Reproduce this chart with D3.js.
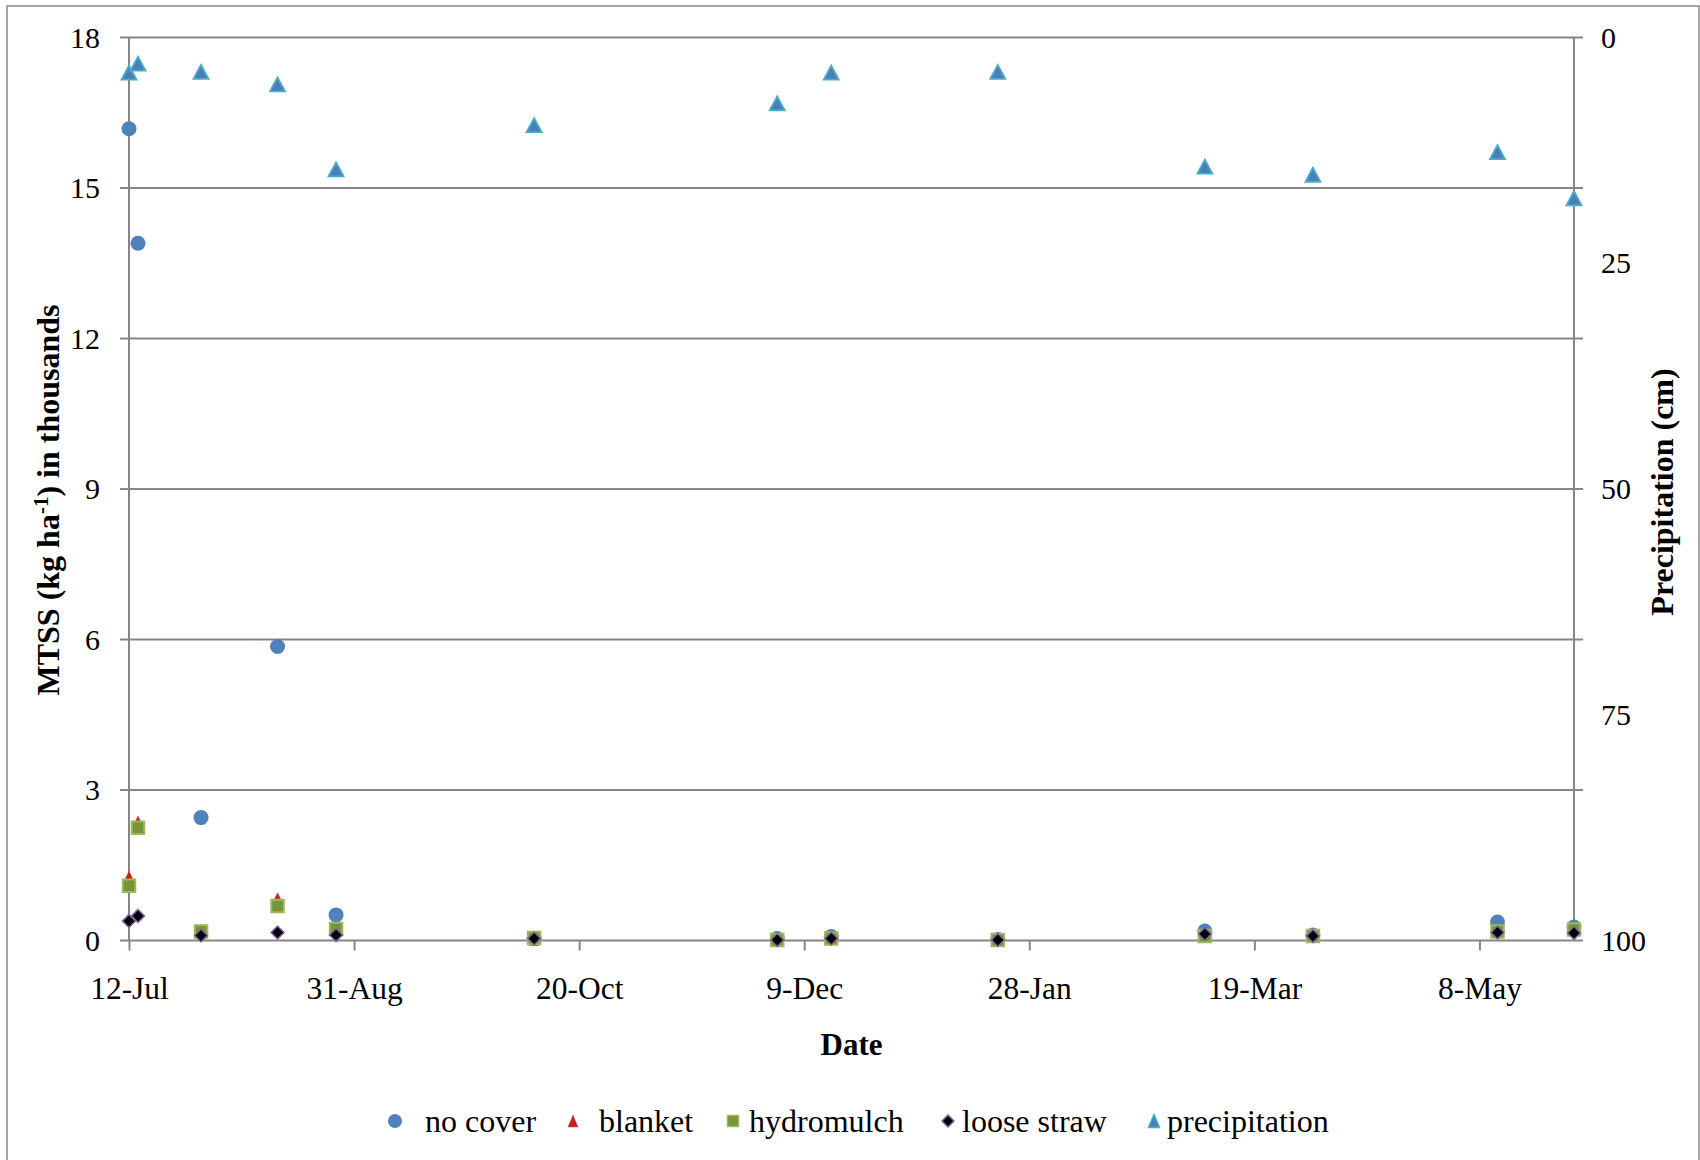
<!DOCTYPE html>
<html>
<head>
<meta charset="utf-8">
<script src="https://cdn.jsdelivr.net/npm/d3@7"></script>
<style>
  body { margin: 0; background: #fff; }
  svg text { font-family: "Liberation Serif", "Times New Roman", serif; fill: #000; }
</style>
</head>
<body>
<div id="chart"></div>
<script>
// sampling dates and values (MTSS in thousands of kg/ha, precipitation in cm)
var dates = ["2010-07-12","2010-07-14","2010-07-28","2010-08-14","2010-08-27","2010-10-10",
             "2010-12-03","2010-12-15","2011-01-21","2011-03-08","2011-04-01","2011-05-12","2011-05-29"];
var noCover      = [16.18, 13.90, 2.45, 5.86, 0.51, 0.04, 0.04, 0.08, 0.02, 0.19, 0.11, 0.37, 0.27];
var blanket      = [1.28, 2.38, 0.23, 0.85, 0.20, 0.00, 0.01, 0.03, 0.01, 0.08, 0.08, 0.17, 0.20];
var hydromulch   = [1.09, 2.25, 0.18, 0.69, 0.23, 0.05, 0.01, 0.04, 0.01, 0.09, 0.09, 0.18, 0.22];
var looseStraw   = [0.39, 0.49, 0.10, 0.16, 0.11, 0.04, 0.01, 0.04, 0.01, 0.13, 0.09, 0.16, 0.15];
var precipitation= [3.9, 2.9, 3.8, 5.2, 14.6, 9.7, 7.3, 3.9, 3.8, 14.3, 15.2, 12.7, 17.8];

var xTicks = ["2010-07-12","2010-08-31","2010-10-20","2010-12-09","2011-01-28","2011-03-19","2011-05-08"];
var xDomain = ["2010-07-12","2011-05-29"];
var yTicks = [0,3,6,9,12,15,18];
var y2Ticks = [0,25,50,75,100];

var W = 1700, H = 1160;
var m = {l:129, r:1574, t:37.5, b:940.5};
var axisColor = "#868686";
var parse = d3.timeParse("%Y-%m-%d");
var fmt = d3.timeFormat("%-d-%b");

var svg = d3.select("#chart").append("svg")
	.attr("width", W).attr("height", H);

// outer chart border
svg.append("rect").attr("x",7).attr("y",6).attr("width",1692).attr("height",1200)
	.style("fill","none").style("stroke",axisColor).style("stroke-width",1.5);

var X = d3.scaleTime().domain(xDomain.map(parse)).range([m.l, m.r]),
	Y = d3.scaleLinear().domain([0,18]).range([m.b, m.t]),
	Y2 = d3.scaleLinear().domain([0,100]).range([m.t, m.b]);

// gridlines (extend past both axes as tick marks)
svg.selectAll(".grid").data(yTicks).enter().append("line")
	.attr("class","grid")
	.attr("x1", m.l-9).attr("x2", m.r+9)
	.attr("y1", function(d){return Y(d)}).attr("y2", function(d){return Y(d)})
	.style("stroke",axisColor).style("stroke-width",2);

// left + right axes
[m.l, m.r].forEach(function(x){
	svg.append("line").attr("x1",x).attr("x2",x).attr("y1",m.t).attr("y2",m.b)
		.style("stroke",axisColor).style("stroke-width",2);
});

// tick labels
var yAx = d3.axisLeft(Y).tickValues(yTicks).tickSize(0).tickPadding(29);
var gy = svg.append("g").attr("transform","translate("+m.l+",0)").call(yAx);
gy.select(".domain").remove();
gy.selectAll("text").style("font-size","30px").style("font-family","Liberation Serif");

var y2Ax = d3.axisRight(Y2).tickValues(y2Ticks).tickSize(0).tickPadding(27);
var gy2 = svg.append("g").attr("transform","translate("+m.r+",0)").call(y2Ax);
gy2.select(".domain").remove();
gy2.selectAll("text").style("font-size","30px").style("font-family","Liberation Serif");

var xAx = d3.axisBottom(X).tickValues(xTicks.map(parse)).tickFormat(fmt).tickSize(10).tickPadding(26);
var gx = svg.append("g").attr("transform","translate(0,"+m.b+")").call(xAx);
gx.select(".domain").remove();
gx.selectAll("line").style("stroke",axisColor).style("stroke-width",2);
gx.selectAll("text").style("font-size","31.5px").style("font-family","Liberation Serif");

// axis titles
svg.append("text").attr("x",(m.l+m.r)/2).attr("y",1055).attr("text-anchor","middle")
	.style("font-size","31px").style("font-weight","bold").text("Date");

var yt = svg.append("text").attr("transform","translate(59,500) rotate(-90)")
	.attr("text-anchor","middle").style("font-size","32px").style("font-weight","bold");
yt.append("tspan").text("MTSS (kg ha");
yt.append("tspan").attr("dy",-11).style("font-size","21px").text("-1");
yt.append("tspan").attr("dy",11).text(") in thousands");

svg.append("text").attr("transform","translate(1673,492) rotate(-90)")
	.attr("text-anchor","middle").style("font-size","32px").style("font-weight","bold")
	.text("Precipitation (cm)");

// marker shapes
function circle(r){ return "M"+(-r)+",0A"+r+","+r+" 0 1,0 "+r+",0A"+r+","+r+" 0 1,0 "+(-r)+",0Z"; }
function tri(w,h){ return "M0,"+(-h/2)+"L"+(w/2)+","+(h/2)+"L"+(-w/2)+","+(h/2)+"Z"; }
function square(s){ return "M"+(-s/2)+","+(-s/2)+"h"+s+"v"+s+"h"+(-s)+"Z"; }
function diamond(s){ return "M0,"+(-s)+"L"+s+",0L0,"+s+"L"+(-s)+",0Z"; }

var series = [
	{name:"no cover", values:noCover, axis:Y, path:circle(7.5), lpath:circle(7), fill:"#4f81bd", stroke:"#4f81bd", sw:0},
	{name:"blanket", values:blanket, axis:Y, path:tri(10,10), lpath:tri(10,12), fill:"#c81e1e", stroke:"#c0504d", sw:0.5},
	{name:"hydromulch", values:hydromulch, axis:Y, path:square(12.5), lpath:square(11), fill:"#77933c", stroke:"#9bbb59", sw:2},
	{name:"loose straw", values:looseStraw, axis:Y, path:diamond(6.5), lpath:diamond(6), fill:"#000", stroke:"#8064a2", sw:1.5},
	{name:"precipitation", values:precipitation, axis:Y2, path:tri(15,14), lpath:tri(11,13), fill:"#4a7ebb", stroke:"#4bacc6", sw:1.8}
];

series.forEach(function(s){
	svg.selectAll(".pt-"+s.name.replace(" ","")).data(s.values).enter().append("path")
		.attr("class","pt-"+s.name.replace(" ",""))
		.attr("d", s.path)
		.attr("transform",function(d,i){return "translate("+X(parse(dates[i]))+","+s.axis(d)+")"})
		.style("fill",s.fill).style("stroke",s.stroke).style("stroke-width",s.sw);
});

// legend
var legX = [395, 573, 733, 948, 1154];
var lg = svg.selectAll(".legend").data(series).enter().append("g")
	.attr("class","legend")
	.attr("transform",function(d,i){return "translate("+legX[i]+",1121)"});
lg.append("path").attr("d",function(d){return d.lpath})
	.style("fill",function(d){return d.fill}).style("stroke",function(d){return d.stroke})
	.style("stroke-width",function(d){return Math.min(d.sw,1.5)});
lg.append("text").attr("x",function(d,i){return [30,26,16,14,13][i]}).attr("dy","0.33em")
	.style("font-size","32px").text(function(d){return d.name});
</script>
</body>
</html>
